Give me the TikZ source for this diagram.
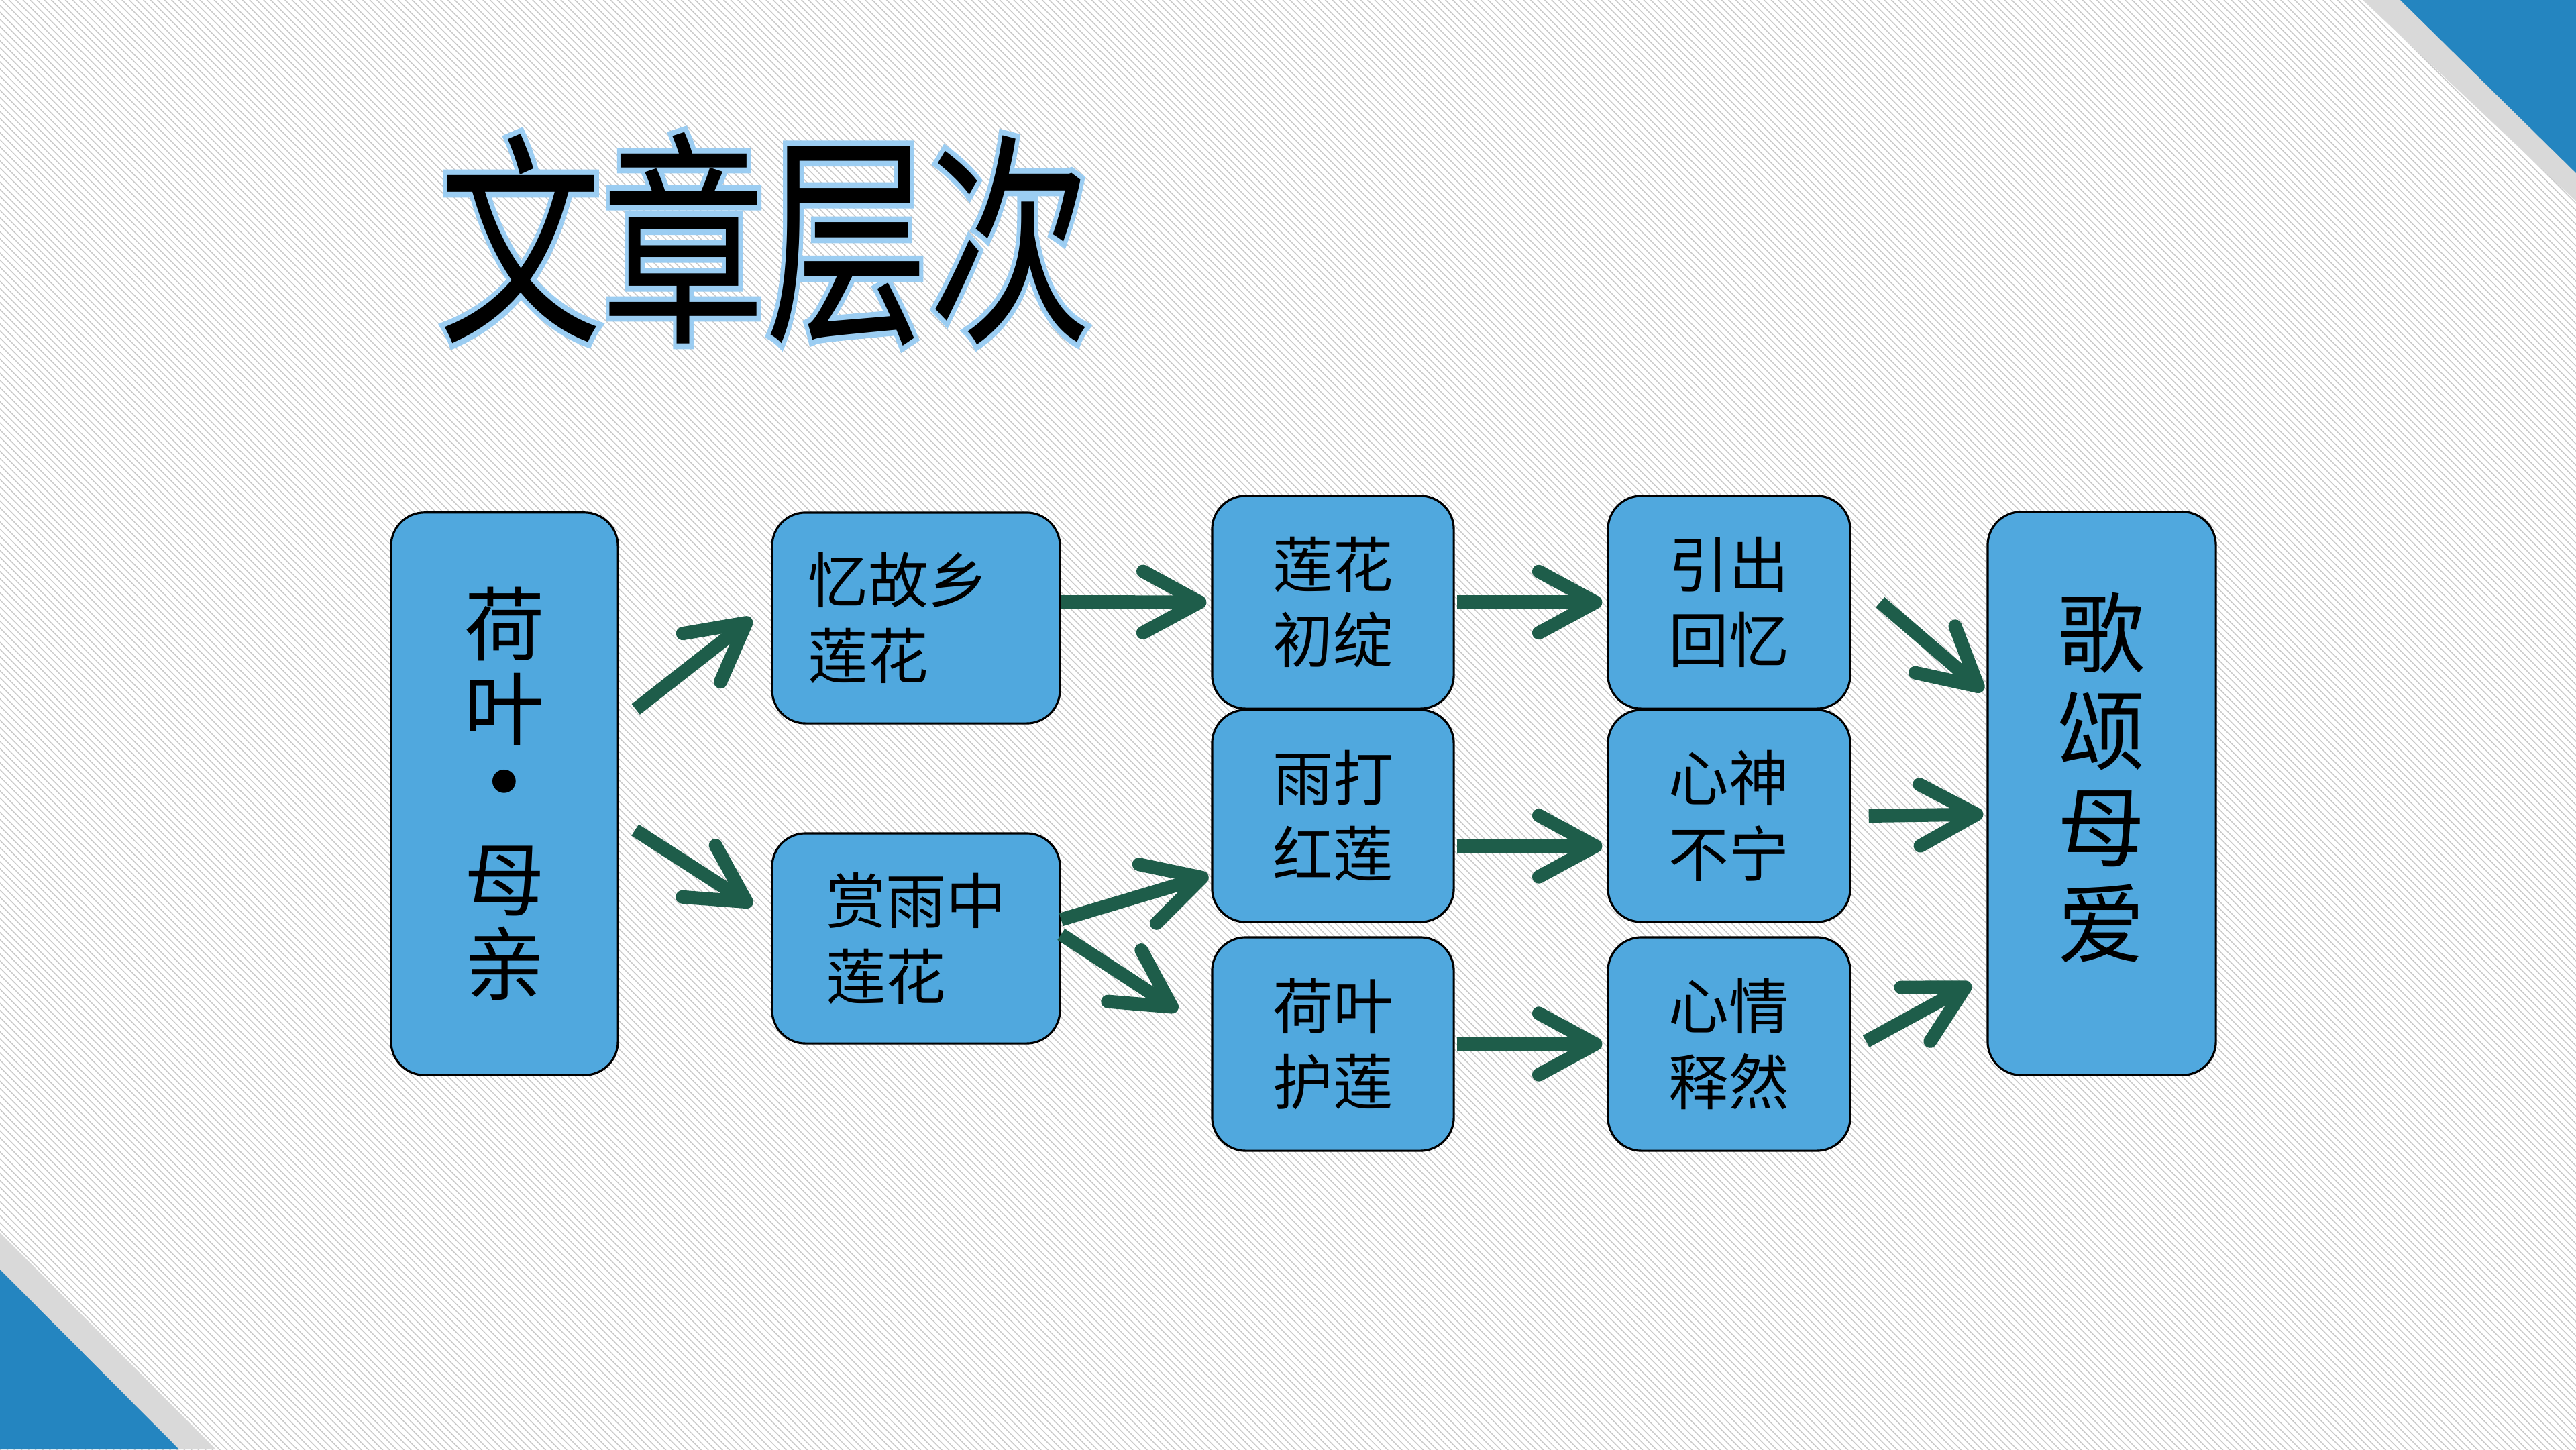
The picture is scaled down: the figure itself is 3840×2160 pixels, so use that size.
\documentclass[tikz,border=0pt]{standalone}
\usepackage{fontspec}
\setmainfont{Noto Sans CJK SC}
\newfontfamily\titleglowfont[FakeBold=5]{Noto Sans CJK SC}
\usetikzlibrary{arrows.meta,patterns,calc}
\definecolor{boxblue}{RGB}{80,168,222}
\definecolor{arrowgreen}{RGB}{30,93,74}
\definecolor{cornerblue}{RGB}{36,133,192}
\definecolor{bandgray}{RGB}{217,217,217}
\definecolor{glowblue}{RGB}{155,205,242}
\definecolor{dotgray}{RGB}{200,200,200}
\begin{document}
\begin{tikzpicture}[x=0.01cm,y=-0.01cm,
  box/.style={draw=black,line width=0.9pt,fill=boxblue,rounded corners=0.5cm,inner sep=0pt,align=center,font=\fontsize{25.5pt}{32pt}\selectfont},
  bigbox/.style={box,font=\fontsize{34pt}{36pt}\selectfont},
  arr/.style={draw=arrowgreen,line width=5.7pt,-{Straight Barb[length=24pt,width=26pt,round]}},
  titletext/.style={inner sep=0pt}
]
\useasboundingbox (0,0) rectangle (3840,2160);
\fill[white] (0,0) rectangle (3840,2160);
\fill[pattern=north west lines,pattern color=dotgray] (0,0) rectangle (3840,2160);
% corner triangles
\fill[bandgray] (3522,0) -- (3840,0) -- (3840,300) -- cycle;
\fill[cornerblue] (3578,0) -- (3840,0) -- (3840,258) -- cycle;
\fill[bandgray] (0,1837) -- (0,2160) -- (322,2160) -- cycle;
\fill[cornerblue] (0,1892) -- (0,2160) -- (267,2160) -- cycle;
% title
\node[titletext,text=glowblue,font=\titleglowfont\fontsize{96pt}{96pt}\selectfont] (titleglow) at (1141,356) {\scalebox{0.72}[1]{文章层次}};
\node[titletext,text=black,font=\fontsize{96pt}{96pt}\selectfont] (title) at (1141,356) {\scalebox{0.72}[1]{文章层次}};
% boxes
\node[bigbox,minimum width=3.38cm,minimum height=8.38cm] (A) at (752,1183)
  {荷\\叶\\\raisebox{14pt}{\fontsize{11pt}{11pt}\selectfont ●}\\母\\亲};
\node[box,align=left,minimum width=4.29cm,minimum height=3.14cm] (B) at (1365.5,921) {忆故乡\hspace*{15pt}\\莲花};
\node[box,align=left,minimum width=4.29cm,minimum height=3.13cm] (C) at (1365.5,1398.5) {赏雨中\\莲花};
\node[box,minimum width=3.6cm,minimum height=3.17cm] (D) at (1987,897.5) {莲花\\初绽};
\node[box,minimum width=3.6cm,minimum height=3.16cm] (E) at (1987,1216) {雨打\\红莲};
\node[box,minimum width=3.6cm,minimum height=3.18cm] (F) at (1987,1556) {荷叶\\护莲};
\node[box,minimum width=3.61cm,minimum height=3.17cm] (G) at (2577.5,897.5) {引出\\回忆};
\node[box,minimum width=3.61cm,minimum height=3.16cm] (H) at (2577.5,1216) {心神\\不宁};
\node[box,minimum width=3.61cm,minimum height=3.18cm] (I) at (2577.5,1556) {心情\\释然};
\node[bigbox,font=\fontsize{37pt}{41pt}\selectfont,minimum width=3.4cm,minimum height=8.39cm] (J) at (3133,1182.5)
  {歌\\颂\\母\\爱\rule[-16pt]{0pt}{0pt}};
% arrows
\draw[arr] ($(A.east)+(25,-126)$) -- ($(B.west)+(-29,1)$);
\draw[arr] ($(A.east)+(24,54)$) -- ($(C.west)+(-28,-49)$);
\draw[arr] ($(B.east)+(0,-24)$) -- ($(D.west)+(-7,0)$);
\draw[arr] ($(C.east)+(0,-28)$) -- ($(E.west)+(-4,89)$);
\draw[arr] ($(C.east)+(0,-6)$) -- ($(F.west)+(-50,-50)$);
\draw[arr] ($(D.east)+(3,0)$) -- ($(G.west)+(-7,0)$);
\draw[arr] ($(E.east)+(3,45)$) -- ($(H.west)+(-7,45)$);
\draw[arr] ($(F.east)+(3,0)$) -- ($(I.west)+(-7,0)$);
\draw[arr] ($(G.east)+(43,0)$) -- ($(J.west)+(-5,-153)$);
\draw[arr] ($(H.east)+(26,0)$) -- ($(J.west)+(-5,31)$);
\draw[arr] ($(I.east)+(22,-4)$) -- ($(J.west)+(-23,284)$);
\end{tikzpicture}
\end{document}
